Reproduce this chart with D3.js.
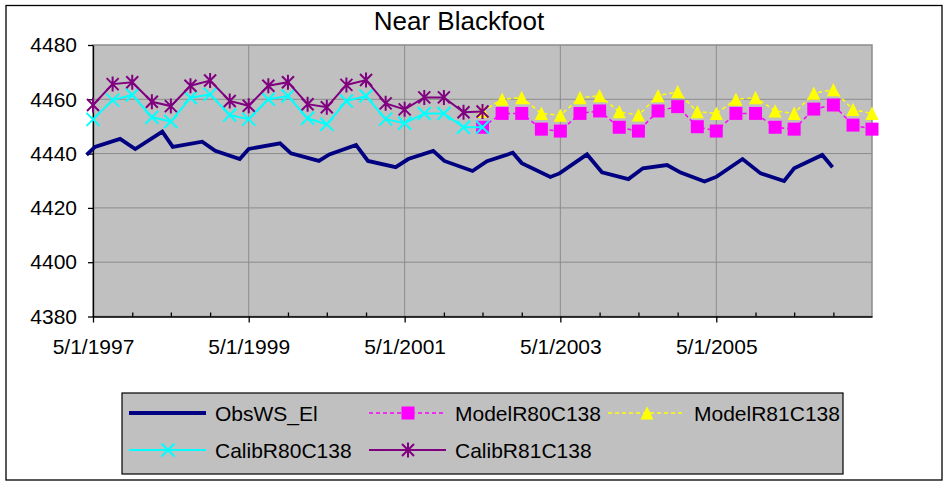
<!DOCTYPE html>
<html>
<head>
<meta charset="utf-8">
<script src="https://d3js.org/d3.v7.min.js"></script>
<style>
    body { margin: 0; background: #fff; }
    svg text { font-family: Arial, 'Liberation Sans', sans-serif; fill: #000; }
    .axis path, .axis line { stroke: #000; stroke-width: 1.3; }
    .grid line { stroke: #8c8c8c; stroke-width: 1; }
</style>
</head>
<body>
<svg id="chart" width="945" height="484"></svg>
<script>
    // observed water surface elevation (irregular dates)
    const obsDates = ["1997-04-01", "1997-05-10", "1997-09-05", "1997-11-15", "1998-03-22", "1998-05-10",
        "1998-09-25", "1998-11-25", "1999-03-20", "1999-05-01", "1999-09-25", "1999-11-15",
        "2000-03-25", "2000-05-13", "2000-09-15", "2000-11-10", "2001-03-20", "2001-05-18",
        "2001-09-12", "2001-11-03", "2002-03-15", "2002-05-22", "2002-09-20", "2002-11-01",
        "2003-03-15", "2003-04-27", "2003-09-03", "2003-11-12", "2004-03-15", "2004-05-22",
        "2004-09-12", "2004-11-15", "2005-03-07", "2005-05-03", "2005-09-01", "2005-11-25",
        "2006-03-15", "2006-05-01", "2006-09-10", "2006-10-28"];
    const obsWS = [4439.5, 4442.5, 4445.4, 4441.7, 4448.1, 4442.5,
        4444.4, 4441.0, 4438.0, 4441.7, 4443.8, 4440.1,
        4437.3, 4439.7, 4443.2, 4437.3, 4435.0, 4438.0,
        4441.0, 4437.3, 4433.6, 4437.2, 4440.3, 4436.5,
        4431.4, 4432.7, 4439.7, 4433.1, 4430.6, 4434.6,
        4435.8, 4433.0, 4429.7, 4431.5, 4438.0, 4432.7,
        4429.9, 4434.6, 4439.5, 4435.0];

    // quarterly model time steps
    const quarterDates = ["1997-05-01", "1997-08-01", "1997-11-01", "1998-02-01", "1998-05-01", "1998-08-01",
        "1998-11-01", "1999-02-01", "1999-05-01", "1999-08-01", "1999-11-01", "2000-02-01",
        "2000-05-01", "2000-08-01", "2000-11-01", "2001-02-01", "2001-05-01", "2001-08-01",
        "2001-11-01", "2002-02-01", "2002-05-01", "2002-08-01", "2002-11-01", "2003-02-01",
        "2003-05-01", "2003-08-01", "2003-11-01", "2004-02-01", "2004-05-01", "2004-08-01",
        "2004-11-01", "2005-02-01", "2005-05-01", "2005-08-01", "2005-11-01", "2006-02-01",
        "2006-05-01", "2006-08-01", "2006-11-01", "2007-02-01", "2007-05-01"];
    const calibDates = quarterDates.slice(0, 21);
    const modelDates = quarterDates.slice(20);

    const calibR80 = [4452.6, 4459.7, 4461.6, 4453.4, 4451.8, 4460.6, 4461.8, 4454.2, 4452.7, 4460.0,
        4461.2, 4453.0, 4450.8, 4459.4, 4461.2, 4452.7, 4451.2, 4454.8, 4454.8, 4449.7, 4449.7];
    const calibR81 = [4457.9, 4465.6, 4466.3, 4459.1, 4457.5, 4465.0, 4466.9, 4459.4, 4457.6, 4465.0,
        4466.3, 4458.2, 4457.1, 4465.3, 4467.1, 4458.5, 4456.3, 4460.7, 4460.7, 4455.2, 4455.5];
    const modelR80 = [4449.7, 4454.8, 4454.8, 4449.0, 4448.3, 4454.8, 4455.7, 4449.7, 4448.3, 4455.7,
        4457.3, 4449.9, 4448.3, 4454.8, 4454.8, 4449.7, 4449.0, 4456.4, 4457.9, 4450.5, 4449.0];
    const modelR81 = [4455.5, 4460.0, 4460.6, 4454.8, 4454.1, 4460.6, 4461.3, 4455.4, 4454.2, 4461.3,
        4462.8, 4455.4, 4454.8, 4460.0, 4460.6, 4455.7, 4454.8, 4462.2, 4463.5, 4456.2, 4454.8];

    const yTicks = [4380, 4400, 4420, 4440, 4460, 4480];
    const xMajor = ["1997-05-01", "1999-05-01", "2001-05-01", "2003-05-01", "2005-05-01"];
    const xMinor = ["1997-11-01", "1998-05-01", "1998-11-01", "1999-11-01", "2000-05-01", "2000-11-01",
        "2001-11-01", "2002-05-01", "2002-11-01", "2003-11-01", "2004-05-01", "2004-11-01",
        "2005-11-01", "2006-05-01", "2006-11-01"];
    const xDomain = ["1997-05-01", "2007-05-01"];

    const plot = { left: 93, top: 45, right: 872, bottom: 316.5 };
    const parse = d3.timeParse("%Y-%m-%d");
    const fmt = d3.timeFormat("%-m/%-d/%Y");

    const series = [
        { name: "ObsWS_El", dates: obsDates, values: obsWS, color: "#000080", width: 3.8, dash: null, marker: null },
        { name: "ModelR80C138", dates: modelDates, values: modelR80, color: "#FF00FF", width: 1.5, dash: "4,3", marker: "square" },
        { name: "ModelR81C138", dates: modelDates, values: modelR81, color: "#FFFF00", width: 1.5, dash: "4,3", marker: "triangle" },
        { name: "CalibR80C138", dates: calibDates, values: calibR80, color: "#00FFFF", width: 2, dash: null, marker: "x" },
        { name: "CalibR81C138", dates: calibDates, values: calibR81, color: "#800080", width: 2, dash: null, marker: "star" }
    ];

    const svg = d3.select("#chart");

    const x = d3.scaleTime().domain(xDomain.map(parse)).range([plot.left, plot.right]);
    const y = d3.scaleLinear().domain([4380, 4480]).range([plot.bottom, plot.top]);

    // chart area border
    svg.append("rect")
        .attr("x", 6).attr("y", 5.5).attr("width", 936).attr("height", 474.5)
        .attr("fill", "#fff").attr("stroke", "#000").attr("stroke-width", 1.3);

    svg.append("text")
        .attr("x", 459).attr("y", 30)
        .attr("text-anchor", "middle")
        .style("font-size", "26px")
        .text("Near Blackfoot");

    // plot area
    svg.append("rect")
        .attr("x", plot.left).attr("y", plot.top)
        .attr("width", plot.right - plot.left).attr("height", plot.bottom - plot.top)
        .attr("fill", "#C0C0C0").attr("stroke", "#8c8c8c").attr("stroke-width", 1.5);

    let grid = svg.append("g").attr("class", "grid");
    grid.selectAll("line.h")
        .data(yTicks.slice(1, -1))
        .enter().append("line")
        .attr("class", "h")
        .attr("x1", plot.left).attr("x2", plot.right)
        .attr("y1", d => y(d)).attr("y2", d => y(d));
    grid.selectAll("line.v")
        .data(xMajor.slice(1).map(parse))
        .enter().append("line")
        .attr("class", "v")
        .attr("x1", d => x(d)).attr("x2", d => x(d))
        .attr("y1", plot.top).attr("y2", plot.bottom);

    let yAxis = svg.append("g")
        .attr("class", "axis")
        .attr("transform", `translate(${plot.left},0)`)
        .call(d3.axisLeft(y).tickValues(yTicks).tickSizeInner(5).tickSizeOuter(0).tickPadding(11).tickFormat(d3.format("d")));
    yAxis.selectAll("text").style("font-size", "21px");

    svg.append("g")
        .attr("class", "axis")
        .attr("transform", `translate(0,${plot.bottom})`)
        .call(d3.axisBottom(x).tickValues(xMinor.map(parse)).tickSize(-4).tickFormat(""))
        .select(".domain").remove();

    let xAxis = svg.append("g")
        .attr("class", "axis")
        .attr("transform", `translate(0,${plot.bottom})`)
        .call(d3.axisBottom(x).tickValues(xMajor.map(parse)).tickSizeInner(6).tickSizeOuter(0).tickPadding(17).tickFormat(fmt));
    xAxis.selectAll("text").style("font-size", "21px");

    function markerPath(type) {
        if (type == "square") return "M-6.5,-6.5H6.5V6.5H-6.5Z";
        if (type == "triangle") return "M0,-6.8L6.5,6.5L-6.5,6.5Z";
        if (type == "x") return "M-6.5,-6.5L6.5,6.5M6.5,-6.5L-6.5,6.5";
        return "M-6,-6L6,6M6,-6L-6,6M0,-7.5V7.5";
    }
    function drawMarker(sel, s) {
        let filled = s.marker == "square" || s.marker == "triangle";
        sel.attr("d", markerPath(s.marker))
            .attr("fill", filled ? s.color : "none")
            .attr("stroke", filled ? "none" : s.color)
            .attr("stroke-width", 2);
    }

    let lineGen = d3.line()
        .x(d => x(d.date))
        .y(d => y(d.value));

    series.forEach(s => {
        let pts = s.dates.map((d, i) => ({ date: parse(d), value: s.values[i] }));
        let g = svg.append("g").attr("class", "series");
        g.append("path")
            .datum(pts)
            .attr("fill", "none")
            .attr("stroke", s.color)
            .attr("stroke-width", s.width)
            .attr("stroke-dasharray", s.dash)
            .attr("stroke-linejoin", "miter")
            .attr("d", lineGen);
        if (s.marker) {
            g.selectAll("path.mk")
                .data(pts)
                .enter().append("path")
                .attr("class", "mk")
                .attr("transform", d => `translate(${x(d.date)},${y(d.value)})`)
                .call(drawMarker, s);
        }
    });

    // legend
    const legendPos = [
        { x: 129, y: 413 }, { x: 369, y: 413 }, { x: 608, y: 413 },
        { x: 129, y: 450 }, { x: 369, y: 450 }
    ];
    let legend = svg.append("g").attr("class", "legend");
    legend.append("rect")
        .attr("x", 122).attr("y", 393).attr("width", 721).attr("height", 81)
        .attr("fill", "#C0C0C0").attr("stroke", "#000").attr("stroke-width", 1.2);
    series.forEach((s, i) => {
        let p = legendPos[i];
        let item = legend.append("g").attr("transform", `translate(${p.x},${p.y})`);
        item.append("line")
            .attr("x1", 0).attr("x2", 77)
            .attr("stroke", s.color)
            .attr("stroke-width", s.width)
            .attr("stroke-dasharray", s.dash);
        if (s.marker) {
            item.append("path")
                .attr("transform", "translate(39,0)")
                .call(drawMarker, s);
        }
        item.append("text")
            .attr("x", 86).attr("dy", "0.36em")
            .style("font-size", "21px")
            .text(s.name);
    });
</script>
</body>
</html>
